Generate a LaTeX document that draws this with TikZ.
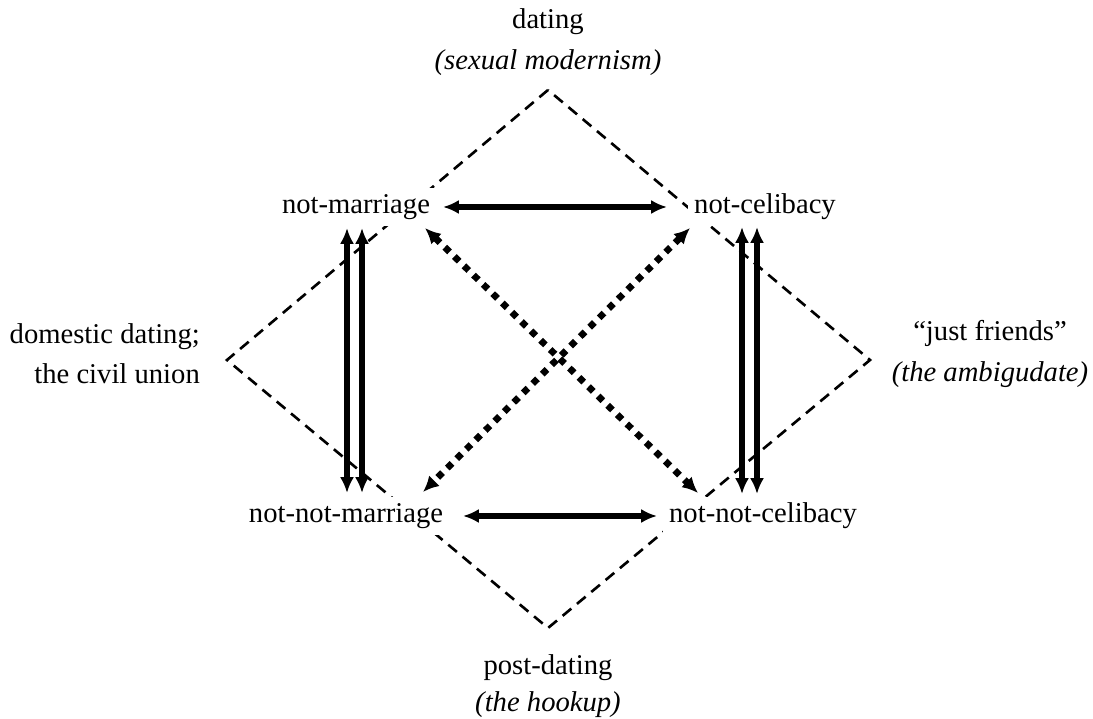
\documentclass[tikz,border=0pt]{standalone}
\usepackage{fontspec}
\setmainfont{Liberation Serif}
\usepackage{tikz}
\usetikzlibrary{calc, positioning, arrows.meta}

\tikzset{
  term/.style={fill=white, inner sep=3.5pt, font=\fontsize{16.3}{19}\selectfont},
  gloss/.style={align=center, font=\fontsize{16.3}{23}\selectfont},
  dashedge/.style={line width=1.5pt, dash pattern=on 6.4pt off 4.2pt},
  biarrow/.style={{Latex[length=9pt,width=8pt]}-{Latex[length=9pt,width=8pt]}, line width=3.2pt},
  dotarrow/.style={{Latex[length=9pt,width=8.5pt]}-{Latex[length=9pt,width=8.5pt]},
                   line width=3.8pt, dash pattern=on 3.8pt off 3.8pt},
}

\begin{document}
\begin{tikzpicture}[x=0.02cm, y=-0.02cm]
  \useasboundingbox (0,0) rectangle (1093,719);

  % Dashed diamond behind the square
  \coordinate (dtop) at (548,90);
  \coordinate (dleft) at (227,360);
  \coordinate (dbot) at (548,628);
  \coordinate (dright) at (870,360);
  \draw[dashedge] (dtop) -- (dleft) -- (dbot) -- (dright) -- cycle;

  % Four terms of the square
  \node[term] (nm)  at (356,207) {not-marriage};
  \node[term] (nc)  at (765,207) {not-celibacy};
  \node[term] (nnm) at (346,516) {not-not-marriage};
  \node[term] (nnc) at (763,516) {not-not-celibacy};

  % Glosses at the corners of the diamond
  \node[gloss] (dating) at (548,42) {dating\\\textit{(sexual modernism)}};
  \node[gloss, align=right, anchor=east] (domestic) at (206,354) {domestic dating;\\the civil union};
  \node[gloss] (friends) at (990,354) {“just friends”\\\textit{(the ambigudate)}};
  \node[gloss, font=\fontsize{16.3}{21}\selectfont] (postdating) at (548,686) {post-dating\\\textit{(the hookup)}};

  % Contraries
  \draw[biarrow] ($(nm)+(87,0)$) -- ($(nc)+(-98,0)$);
  \draw[biarrow] ($(nnm)+(117,0)$) -- ($(nnc)+(-106,0)$);

  % Implications (two arrows each side)
  \foreach \a in {-9,6}
    \draw[biarrow] ($(nm)+(\a,21)$) -- ($(nnm)+(\a+10,-23)$);
  \foreach \a in {-23,-8}
    \draw[biarrow] ($(nc)+(\a,20)$) -- ($(nnc)+(\a+2,-22)$);

  % Contradictions
  \draw[dotarrow] ($(nm)+(69,21)$) -- ($(nnc)+(-65,-23)$);
  \draw[dotarrow] ($(nc)+(-75,21)$) -- ($(nnm)+(77,-24)$);
\end{tikzpicture}
\end{document}
